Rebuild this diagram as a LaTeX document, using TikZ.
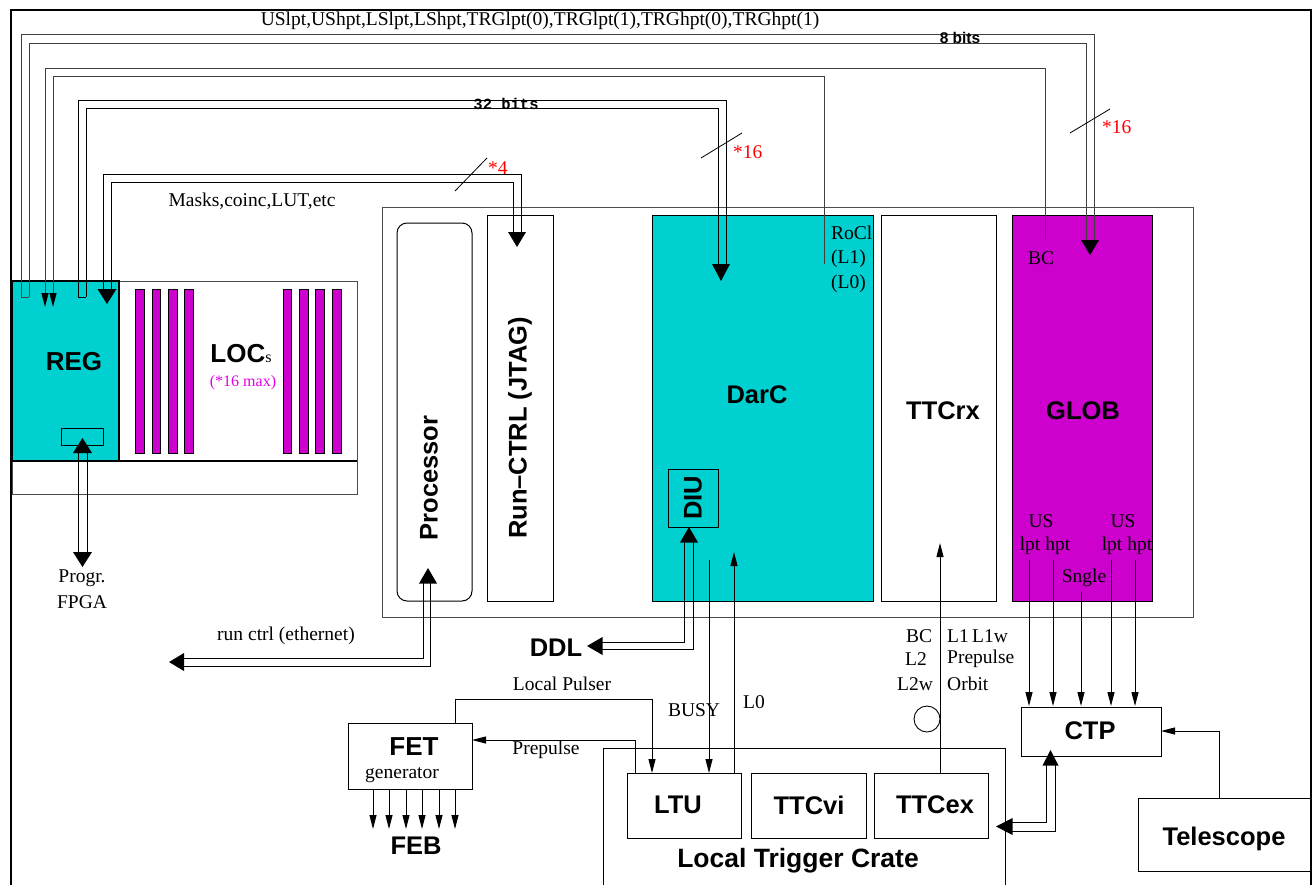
\documentclass[tikz,border=0pt]{standalone}
\usepackage{fontspec}
\setmainfont{Liberation Serif}
\setsansfont{Liberation Sans}
\setmonofont{Liberation Mono}
\usetikzlibrary{arrows.meta,fit}
\definecolor{cy}{RGB}{0,208,208}
\definecolor{mg}{RGB}{205,0,205}
\definecolor{mgt}{RGB}{225,0,225}
\begin{document}
\begin{tikzpicture}[x=1pt,y=-1pt,
  box/.style={draw, line width=1pt, inner sep=0pt, outer sep=0pt},
  gbox/.style={draw=black!70, line width=1pt, inner sep=0pt, outer sep=0pt},
  lbl/.style={font=\fontsize{19.5}{22}\selectfont, inner sep=0pt},
  redlbl/.style={font=\fontsize{19.5}{22}\selectfont, text=red, inner sep=0pt, anchor=west},
  big/.style={font=\fontsize{25.5}{30}\selectfont\sffamily\bfseries, inner sep=0pt},
  wire/.style={line width=1pt},
  gwire/.style={line width=1pt, draw=black!75},
  sarr/.style={line width=1pt, -{Triangle[width=7pt,length=14pt]}},
  gsarr/.style={line width=1pt, draw=black!75, -{Triangle[width=7pt,length=14pt,color=black]}},
  bar/.style={draw, fill=mg, line width=0.8pt}
]
\useasboundingbox (0,0) rectangle (1314,884);
\clip (0,0) rectangle (1314,884);

% outer frame
\draw[line width=2.5pt] (11,900) -- (11,10) -- (1311,10) -- (1311,900);

% ---------------- LOC board and REG
\node[gbox, fit={(12,281) (357,494)}] (board) {};
\draw[line width=1.2pt] (12,461) -- (357,461);
\node[box, fill=cy, line width=1.5pt, fit={(12,281) (119,461)}] (reg) {};
\foreach \a/\b in {135/144,152/160,168/177,184/193,283/291,299/308,315/324,332/341}
  \draw[bar] (\a,289) rectangle (\b,453);
\node[big, font=\fontsize{26}{30}\selectfont\sffamily\bfseries] (regl) at (74,362) {REG};
\node[inner sep=0pt] (locl) at (241,354) {\fontsize{26}{30}\selectfont\sffamily\bfseries LOC\rmfamily\mdseries\fontsize{16}{18}\selectfont s};
\node[inner sep=0pt, text=mgt, font=\fontsize{16}{18}\selectfont] (locmax) at (243,383) {(*16 max)};
\node[box, fit={(61,428) (103,445)}] (regport) {};

% REG <-> Progr. FPGA
\coordinate (F1s) at (78,453); \coordinate (F1e) at (78,552);
\coordinate (F2s) at (87,453); \coordinate (F2e) at (87,552);
\draw[wire] (F1s) -- (F1e); \draw[wire] (F2s) -- (F2e);
\fill (73,453) -- (92,453) -- (82.5,438) -- cycle;
\fill (73,552) -- (92,552) -- (82.5,567) -- cycle;
\node[lbl] (progr) at (82,578) {Progr.};
\node[lbl] (fpga) at (82,602) {FPGA};

% ---------------- main crate
\node[gbox, fit={(382,207) (1193,617)}] (crate) {};
\node[box, rounded corners=10pt, fit={(397,223) (472,601)}] (proc) {};
\node[box, fit={(487,215) (553,601)}] (runctrl) {};
\node[box, fill=cy, fit={(652,215) (873,601)}] (darc) {};
\node[box, fit={(881,215) (996,601)}] (ttcrx) {};
\node[box, fill=mg, fit={(1012,215) (1152,601)}] (glob) {};
\node[box, fit={(668,469) (718,527)}] (diu) {};

\node[big, rotate=90] (procl) at (429,478) {Processor};
\node[big, rotate=90] (runl) at (520,428) {Run–CTRL (JTAG)};
\node[big] (darcl) at (757,395) {DarC};
\node[big, rotate=90] (diul) at (693,498) {DIU};
\node[big] (ttcrxl) at (943,411) {TTCrx};
\node[big] (globl) at (1083,411) {GLOB};

\node[lbl, anchor=west] (rocl) at (831,233) {RoCl};
\node[lbl, anchor=west] (rl1) at (831,259) {(L1)};
\node[lbl, anchor=west] (rl0) at (831,284) {(L0)};
\node[lbl] (globbc) at (1041,258) {BC};
\node[lbl] (us1) at (1041,521) {US};
\node[lbl] (us2) at (1123,521) {US};
\node[lbl] (lh1) at (1045,546) {lpt hpt};
\node[lbl] (lh2) at (1127,546) {lpt hpt};
\node[lbl] (sngle) at (1084,578) {Sngle};

% ---------------- top buses
% pair A : REG -> GLOB
\coordinate (A1s) at (21,297); \coordinate (A1e) at (1094,240);
\coordinate (A2s) at (29,297); \coordinate (A2e) at (1086,240);
\draw[gwire] (A1s) -- (21,34) -- (1094,34) -- (A1e);
\draw[gwire] (A2s) -- (29,43) -- (1086,43) -- (A2e);
\draw[gwire] (A1s) -- (A2s);
\fill (1081,240) -- (1099,240) -- (1090,255) -- cycle;
% BC and RoCl : -> REG
\coordinate (Bs) at (1045,239); \coordinate (Be) at (45,307);
\coordinate (Rs) at (824,264); \coordinate (Re) at (53,307);
\draw[gsarr] (Bs) -- (1045,68) -- (45,68) -- (Be);
\draw[gsarr] (Rs) -- (824,76) -- (53,76) -- (Re);
% pair C : REG -> DarC
\coordinate (C1s) at (78,297); \coordinate (C1e) at (726,264);
\coordinate (C2s) at (86,297); \coordinate (C2e) at (718,264);
\draw[wire] (C1s) -- (78,100) -- (726,100) -- (C1e);
\draw[wire] (C2s) -- (86,108) -- (718,108) -- (C2e);
\draw[wire] (C1s) -- (C2s);
\fill (712,264) -- (730,264) -- (721,281) -- cycle;
% pair D : REG <-> Run-CTRL
\coordinate (D1s) at (103,289); \coordinate (D1e) at (521,232);
\coordinate (D2s) at (111,289); \coordinate (D2e) at (513,232);
\draw[wire] (D1s) -- (103,174) -- (521,174) -- (D1e);
\draw[wire] (D2s) -- (111,182) -- (513,182) -- (D2e);
\fill (97.5,289) -- (116.5,289) -- (107,304) -- cycle;
\fill (508,232) -- (526,232) -- (517,247) -- cycle;

% slashes and multiplicities
\draw[line width=0.8pt] (455,191) -- (487,158);
\node[redlbl] (m4) at (488,168) {*4};
\draw[line width=0.8pt] (701,158) -- (742,133);
\node[redlbl] (m16a) at (733,152) {*16};
\draw[line width=0.8pt] (1070,133) -- (1110,109);
\node[redlbl] (m16b) at (1102,127) {*16};

\node[lbl] (toplbl) at (540,21) {USlpt,UShpt,LSlpt,LShpt,TRGlpt(0),TRGlpt(1),TRGhpt(0),TRGhpt(1)};
\node[inner sep=0pt, font=\fontsize{15.5}{18}\selectfont\sffamily\bfseries] (bits8) at (960,38) {8 bits};
\node[inner sep=0pt, font=\fontsize{15.5}{18}\selectfont\ttfamily\bfseries] (bits32) at (506,104) {32 bits};
\node[lbl] (masks) at (252,201) {Masks,coinc,LUT,etc};

% ---------------- Processor <-> ethernet
\coordinate (P1s) at (423,583); \coordinate (P1e) at (184,658);
\coordinate (P2s) at (430,583); \coordinate (P2e) at (184,666);
\draw[wire] (P1s) -- (423,658) -- (P1e);
\draw[wire] (P2s) -- (430,666) -- (P2e);
\fill (419,583.5) -- (437,583.5) -- (428,568) -- cycle;
\fill (184,653) -- (184,671) -- (169,662) -- cycle;
\node[lbl] (eth) at (286,636) {run ctrl (ethernet)};

% ---------------- DIU <-> DDL
\coordinate (Q1s) at (684,542); \coordinate (Q1e) at (602,642);
\coordinate (Q2s) at (693,542); \coordinate (Q2e) at (602,649);
\draw[wire] (Q1s) -- (684,642) -- (Q1e);
\draw[wire] (Q2s) -- (693,649) -- (Q2e);
\fill (680,542.5) -- (698,542.5) -- (689,527) -- cycle;
\fill (602.5,637) -- (602.5,655) -- (587,646) -- cycle;
\node[big] (ddl) at (556,648) {DDL};

% ---------------- Local trigger crate
\node[box, fit={(603,748) (1005,900)}] (ltc) {};
\node[box, fit={(627,773) (741,838)}] (ltu) {};
\node[box, fit={(751,773) (866,838)}] (ttcvi) {};
\node[box, fit={(874,773) (988,838)}] (ttcex) {};
\node[big] (ltul) at (678,805) {LTU};
\node[big] (ttcvil) at (809,805) {TTCvi};
\node[big] (ttcexl) at (935,805) {TTCex};
\node[big, font=\fontsize{26.5}{30}\selectfont\sffamily\bfseries] (ltcl) at (798,861) {Local Trigger Crate};

% BUSY, L0, TTC
\coordinate (busyS) at (709,560);
\coordinate (l0S) at (734,773);
\coordinate (ttcS) at (940,773);
\draw[sarr] (busyS) -- (busyS |- ltu.north);
\draw[sarr] (l0S) -- (734,552);
\draw[sarr] (ttcS) -- (940,543);
\node[lbl] (busyl) at (694,710) {BUSY};
\node[lbl] (l0l) at (754,702) {L0};
\node[lbl] (tbc) at (919,636) {BC};
\node[lbl] (tl2) at (916,659) {L2};
\node[lbl] (tl2w) at (915,684) {L2w};
\node[lbl, anchor=west] (tl1) at (947,636) {L1\,L1w};
\node[lbl, anchor=west] (tpre) at (947,659) {Prepulse};
\node[lbl, anchor=west] (torb) at (947,684) {Orbit};
\draw[line width=0.9pt] (927,719) circle (13);

% ---------------- FET
\node[box, fit={(348,723) (472,789)}] (fet) {};
\node[big, font=\fontsize{26}{30}\selectfont\sffamily\bfseries] (fetl) at (414,747) {FET};
\node[lbl] (genl) at (402,775) {generator};
\foreach \x in {373,389,406,422,439,455}
  \draw[sarr] (\x,789) -- (\x,829);
\node[big] (feb) at (416,846) {FEB};
\coordinate (lpS) at (455,723);
\draw[sarr] (lpS) -- (455,699) -- (652,699) -- (652,773);
\node[lbl] (lpl) at (562,684) {Local Pulser};
\coordinate (ppS) at (635,773);
\draw[sarr] (ppS) -- (635,740) -- (fet.east |- 0,740);
\node[lbl] (ppl) at (546,750) {Prepulse};

% ---------------- CTP, Telescope
\node[box, fit={(1021,707) (1161,756)}] (ctp) {};
\node[big] (ctpl) at (1090,731) {CTP};
\node[box, fit={(1138,798) (1310,871)}] (tele) {};
\node[big] (telel) at (1224,839) {Telescope};
\foreach \x/\y in {1029/560,1053/560,1081/592,1111/560,1135/560}
  \draw[sarr] (\x,\y) -- (\x,706);
\coordinate (teS) at (1219,798);
\draw[sarr] (teS) -- (1219,731) -- (ctp.east |- 0,731);

% CTP <-> TTCex
\coordinate (T1s) at (1046,765); \coordinate (T1e) at (1012,822);
\coordinate (T2s) at (1055,765); \coordinate (T2e) at (1012,831);
\draw[wire] (T1s) -- (1046,822) -- (T1e);
\draw[wire] (T2s) -- (1055,831) -- (T2e);
\fill (1042.5,765.5) -- (1058.5,765.5) -- (1050.5,750) -- cycle;
\fill (1012.5,818) -- (1012.5,835) -- (996,826.5) -- cycle;
\end{tikzpicture}
\end{document}
